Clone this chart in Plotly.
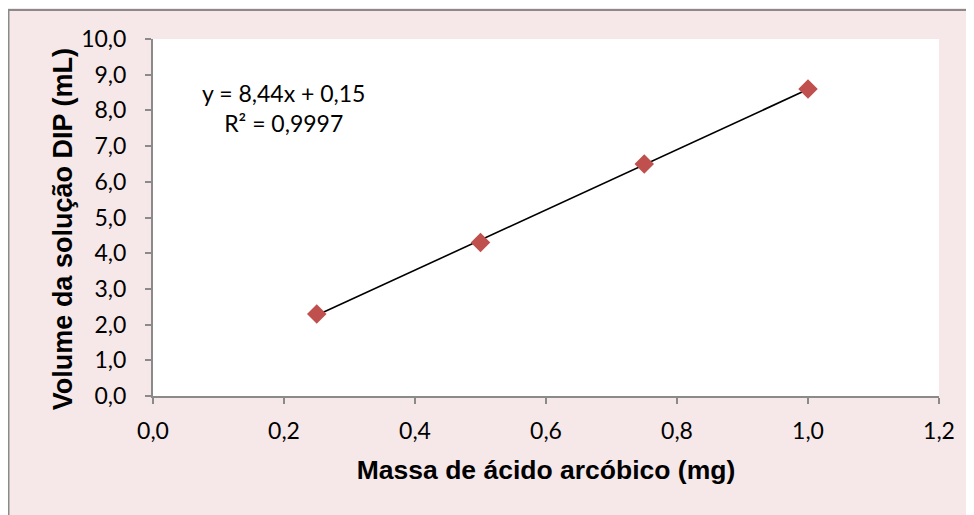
import numpy as np
import plotly.graph_objects as go

# Data
massa_mg = [0.25, 0.50, 0.75, 1.00]
volume_ml = [2.3, 4.3, 6.5, 8.6]
x_ticks = [0.0, 0.2, 0.4, 0.6, 0.8, 1.0, 1.2]
y_ticks = [0.0, 1.0, 2.0, 3.0, 4.0, 5.0, 6.0, 7.0, 8.0, 9.0, 10.0]
x_title = "Massa de ácido arcóbico (mg)"
y_title = "Volume da solução DIP (mL)"

# Linear trendline from the data
xa = np.array(massa_mg)
ya = np.array(volume_ml)
slope, intercept = np.polyfit(xa, ya, 1)
pred = slope * xa + intercept
r2 = 1 - np.sum((ya - pred) ** 2) / np.sum((ya - ya.mean()) ** 2)
eq_text = ("y = " + f"{slope:.2f}".replace(".", ",") + "x + " + f"{intercept:.2f}".replace(".", ",")
           + "<br>R² = " + f"{r2:.4f}".replace(".", ","))
trend_x = [min(massa_mg), max(massa_mg)]
trend_y = [slope * v + intercept for v in trend_x]

W, H = 974, 515
L, T = 145, 31
pw, ph = 786, 357
R, B = W - L - pw, H - T - ph

def px(xpix):
    return (xpix - L) / pw

def py(ypix):
    return (T + ph - ypix) / ph

fig = go.Figure()
fig.add_trace(go.Scatter(x=trend_x, y=trend_y, mode="lines",
                         line=dict(color="black", width=1.6), showlegend=False, hoverinfo="skip"))
fig.add_trace(go.Scatter(x=massa_mg, y=volume_ml, mode="markers",
                         marker=dict(symbol="diamond", size=15, color="#C0504D"), showlegend=False))

pink = "rgb(246,232,232)"
border = "#8a8a8a"
shapes = [
    dict(type="line", xref="paper", yref="paper", x0=px(0), x1=px(W + 20), y0=py(2), y1=py(2),
         line=dict(color=border, width=2)),
    dict(type="line", xref="paper", yref="paper", x0=px(0.5), x1=px(0.5), y0=py(1), y1=py(H + 20),
         line=dict(color=border, width=2)),
]

fig.add_annotation(x=0.1985, y=8.07, xref="x", yref="y", text=eq_text, showarrow=False,
                   xanchor="center", yanchor="middle", align="center",
                   font=dict(family="Lato", size=23, color="black"))

# y-axis title (placed as rotated text, slightly below the axis centre as in the original)
fig.add_annotation(x=px(54.5), y=4.66, xref="paper", yref="y", text=y_title, textangle=-90,
                   showarrow=False, xanchor="center", yanchor="middle",
                   font=dict(family="Liberation Sans", size=27, color="black", weight="bold"))

axis_common = dict(showgrid=False, zeroline=False, showline=True, linecolor=border, linewidth=2,
                   ticks="outside", ticklen=6, tickwidth=2, tickcolor=border,
                   tickfont=dict(family="Lato", size=23, color="black"), tickformat=".1f")

fig.update_layout(
    width=W, height=H,
    margin=dict(l=L, r=R, t=T, b=B, pad=0),
    paper_bgcolor=pink, plot_bgcolor="white",
    separators=",.",
    shapes=shapes,
    xaxis=dict(range=[0, 1.2], tickvals=x_ticks, ticklabelstandoff=7,
               title=dict(text=x_title, standoff=18,
                          font=dict(family="Liberation Sans", size=26.5, color="black", weight="bold")),
               **axis_common),
    yaxis=dict(range=[0, 10], tickvals=y_ticks, ticklabelstandoff=14, **axis_common),
)

fig.write_html("out.html")
